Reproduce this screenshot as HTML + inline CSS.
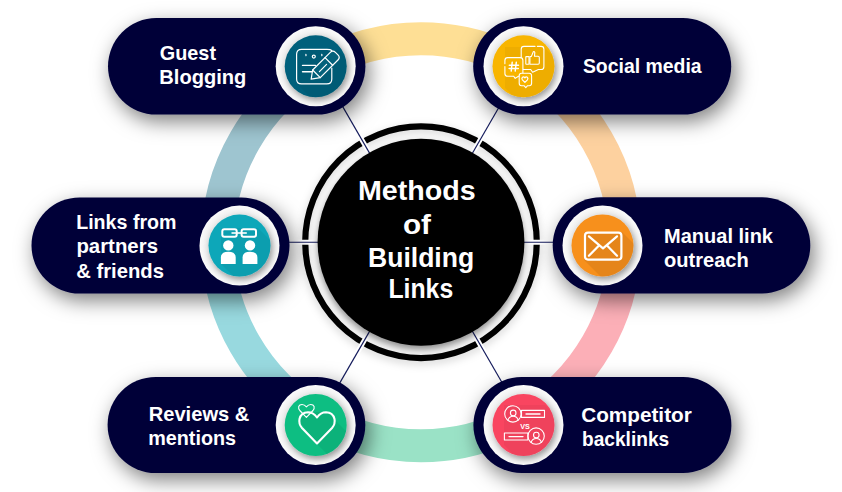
<!DOCTYPE html>
<html><head><meta charset="utf-8"><style>
html,body{margin:0;padding:0;background:#fff;width:842px;height:492px;overflow:hidden}
svg{display:block}
</style></head><body>
<svg width="842" height="492" viewBox="0 0 842 492">
<defs>
<filter id="psh" x="-10%" y="-10%" width="120%" height="120%"><feDropShadow dx="4" dy="7" stdDeviation="10" flood-color="#000" flood-opacity="0.5"/></filter>
<filter id="csh" x="-20%" y="-20%" width="140%" height="140%"><feDropShadow dx="0" dy="4" stdDeviation="3.5" flood-color="#000" flood-opacity="0.45"/></filter>
<filter id="ish" x="-30%" y="-30%" width="160%" height="160%"><feDropShadow dx="2" dy="3" stdDeviation="3" flood-color="#000" flood-opacity="0.35"/></filter>
<filter id="rsh" x="-20%" y="-20%" width="140%" height="140%"><feDropShadow dx="0" dy="3" stdDeviation="4" flood-color="#000" flood-opacity="0.18"/></filter>
<radialGradient id="wg" cx="50%" cy="50%" r="50%"><stop offset="0.7" stop-color="#e6e6e6"/><stop offset="1" stop-color="#fbfbfb"/></radialGradient>
<clipPath id="cl0"><circle cx="315.7" cy="66.3" r="31"/></clipPath><clipPath id="cl1"><circle cx="523.5" cy="66.3" r="31"/></clipPath><clipPath id="cl2"><circle cx="239.5" cy="245.6" r="31"/></clipPath><clipPath id="cl3"><circle cx="602.5" cy="245.5" r="31"/></clipPath><clipPath id="cl4"><circle cx="315.7" cy="425.0" r="31"/></clipPath><clipPath id="cl5"><circle cx="523.5" cy="425.0" r="31"/></clipPath>
</defs>
<rect width="842" height="492" fill="#fff"/>
<path d="M624.50,242.25 A203.5,203.5 0 0 0 522.75,66.01" stroke="#fdd19f" stroke-width="33" fill="none"/><path d="M522.75,66.01 A203.5,203.5 0 0 0 319.25,66.01" stroke="#fedf95" stroke-width="33" fill="none"/><path d="M319.25,66.01 A203.5,203.5 0 0 0 217.50,242.25" stroke="#9ec5d0" stroke-width="33" fill="none"/><path d="M217.50,242.25 A203.5,203.5 0 0 0 319.25,418.49" stroke="#98d9df" stroke-width="33" fill="none"/><path d="M319.25,418.49 A203.5,203.5 0 0 0 522.75,418.49" stroke="#9ae2c6" stroke-width="33" fill="none"/><path d="M522.75,418.49 A203.5,203.5 0 0 0 624.50,242.25" stroke="#fcafb7" stroke-width="33" fill="none"/>
<line x1="421" y1="242.25" x2="661.00" y2="242.25" stroke="#fff" stroke-width="5"/><line x1="421" y1="242.25" x2="541.00" y2="34.40" stroke="#fff" stroke-width="5"/><line x1="421" y1="242.25" x2="301.00" y2="34.40" stroke="#fff" stroke-width="5"/><line x1="421" y1="242.25" x2="181.00" y2="242.25" stroke="#fff" stroke-width="5"/><line x1="421" y1="242.25" x2="301.00" y2="450.10" stroke="#fff" stroke-width="5"/><line x1="421" y1="242.25" x2="541.00" y2="450.10" stroke="#fff" stroke-width="5"/>
<circle cx="421" cy="242.25" r="115.8" fill="none" stroke="#000" stroke-width="6.2" filter="url(#rsh)"/>
<line x1="421" y1="242.25" x2="661.00" y2="242.25" stroke="#fff" stroke-width="5"/><line x1="421" y1="242.25" x2="541.00" y2="34.40" stroke="#fff" stroke-width="5"/><line x1="421" y1="242.25" x2="301.00" y2="34.40" stroke="#fff" stroke-width="5"/><line x1="421" y1="242.25" x2="181.00" y2="242.25" stroke="#fff" stroke-width="5"/><line x1="421" y1="242.25" x2="301.00" y2="450.10" stroke="#fff" stroke-width="5"/><line x1="421" y1="242.25" x2="541.00" y2="450.10" stroke="#fff" stroke-width="5"/>
<line x1="421" y1="242.25" x2="661.00" y2="242.25" stroke="#141b5c" stroke-width="1.2"/><line x1="421" y1="242.25" x2="541.00" y2="34.40" stroke="#141b5c" stroke-width="1.2"/><line x1="421" y1="242.25" x2="301.00" y2="34.40" stroke="#141b5c" stroke-width="1.2"/><line x1="421" y1="242.25" x2="181.00" y2="242.25" stroke="#141b5c" stroke-width="1.2"/><line x1="421" y1="242.25" x2="301.00" y2="450.10" stroke="#141b5c" stroke-width="1.2"/><line x1="421" y1="242.25" x2="541.00" y2="450.10" stroke="#141b5c" stroke-width="1.2"/>
<circle cx="421" cy="242.25" r="103.4" fill="#000" filter="url(#csh)"/>
<g filter="url(#psh)"><rect x="108.0" y="18.1" width="257.4" height="96.5" rx="48.25" fill="#010339"/><rect x="473.2" y="18.1" width="258.0" height="96.5" rx="48.25" fill="#010339"/><rect x="31.5" y="197.4" width="258.0" height="96.2" rx="48.1" fill="#010339"/><rect x="552.7" y="197.3" width="257.6" height="96.2" rx="48.1" fill="#010339"/><rect x="107.6" y="376.9" width="257.7" height="96.2" rx="48.1" fill="#010339"/><rect x="473.4" y="377.0" width="258.0" height="96.0" rx="48.0" fill="#010339"/></g>
<circle cx="315.7" cy="66.3" r="40" fill="url(#wg)"/><circle cx="315.7" cy="66.3" r="31" fill="#04617b" filter="url(#ish)"/><circle cx="523.5" cy="66.3" r="40" fill="url(#wg)"/><circle cx="523.5" cy="66.3" r="31" fill="#f8b500" filter="url(#ish)"/><circle cx="239.5" cy="245.6" r="40" fill="url(#wg)"/><circle cx="239.5" cy="245.6" r="31" fill="#0aa7b9" filter="url(#ish)"/><circle cx="602.5" cy="245.5" r="40" fill="url(#wg)"/><circle cx="602.5" cy="245.5" r="31" fill="#f7901e" filter="url(#ish)"/><circle cx="315.7" cy="425.0" r="40" fill="url(#wg)"/><circle cx="315.7" cy="425.0" r="31" fill="#0fbe82" filter="url(#ish)"/><circle cx="523.5" cy="425.0" r="40" fill="url(#wg)"/><circle cx="523.5" cy="425.0" r="31" fill="#f94560" filter="url(#ish)"/>
<path d="M297,50 L338,50 L383,95 L383,129 L342,129 L297,84 Z" fill="#000" fill-opacity="0.05" clip-path="url(#cl0)"/><path d="M505,47 L544,47 L589,92 L589,133 L550,133 L505,88 Z" fill="#000" fill-opacity="0.04" clip-path="url(#cl1)"/><path d="M221,228 L258,228 L303,273 L303,309 L266,309 L221,264 Z" fill="#000" fill-opacity="0.05" clip-path="url(#cl2)"/><path d="M584,232 L622,232 L667,277 L667,305 L629,305 L584,260 Z" fill="#000" fill-opacity="0.07" clip-path="url(#cl3)"/><path d="M299,421 L306,412 L328,412 L335,420 L380,465 L362,489 L317,444 Z" fill="#000" fill-opacity="0.06" clip-path="url(#cl4)"/><path d="M504,405 L545,405 L590,450 L590,490 L549,490 L504,445 Z" fill="#000" fill-opacity="0.04" clip-path="url(#cl5)"/>
<g fill="none" stroke="#fff" stroke-linecap="round" stroke-linejoin="round" stroke-width="1.2">
<path d="M331.8,50.5 Q330.5,49.3 327,49.3 L301.6,49.3 Q296.6,49.3 296.6,54.3 L296.6,78.9 Q296.6,83.9 301.6,83.9 L326.8,83.9 Q331.8,83.9 331.8,78.9 L331.8,68"/>
<circle cx="313.8" cy="56.6" r="1.5"/>
<line x1="305.9" y1="54.3" x2="306" y2="55.6"/><line x1="321.8" y1="54.3" x2="321.9" y2="55.6"/>
<line x1="302.5" y1="65.4" x2="315.4" y2="65.4" stroke-width="1.4"/><line x1="302.5" y1="71.7" x2="312" y2="71.7" stroke-width="1.4"/>
<g transform="translate(310.8,79.5) rotate(-45)">
<path d="M0.5,0 L8,-5.4 L33,-5.4 Q36.6,-5.4 36.6,-1.8 L36.6,1.8 Q36.6,5.4 33,5.4 L8,5.4 Z" fill="#04617b"/>
<line x1="8" y1="-5.4" x2="8" y2="5.4"/>
<line x1="25.5" y1="-5.4" x2="25.5" y2="5.4"/>
<line x1="11.7" y1="0.5" x2="21.8" y2="0.5"/>
</g>
</g><g fill="none" stroke="#fff" stroke-linecap="round" stroke-linejoin="round" stroke-width="1.1">
<path d="M535,46.4 L524,46.4 Q521.2,46.4 521.2,49.2 L521.2,66.7 Q521.2,69.5 524,69.5 L530.7,69.5 L532.6,72.2 L538.4,69.5 L541.1,69.5 Q543.9,69.5 543.9,66.7 L543.9,49.2 Q543.9,46.4 541.1,46.4 L537.4,46.4"/>
<rect x="525.8" y="56.6" width="3.2" height="7.6" rx="0.4"/>
<path d="M529.9,64.2 L529.9,56.6 L531.4,56.4 L533.3,51.8 Q534.6,51.1 534.8,52.6 L534.5,56.3 L538.1,56.3 Q539.3,56.3 539.3,57.5 L539.3,63 Q539.3,64.2 538.1,64.2 Z"/>
<path d="M507.7,57.6 L520.1,57.6 Q522.9,57.6 522.9,60.4 L522.9,73.4 Q522.9,76.2 520.1,76.2 L518.5,76.2 L515.2,78.4 L513.7,76.2 L507.7,76.2 Q504.9,76.2 504.9,73.4 L504.9,66.5 M504.9,63.8 L504.9,60.4 Q504.9,57.6 507.7,57.6" fill="#f8b500"/>
<path d="M512.2,62.3 L511.2,71.1 M516.3,62.3 L515.2,71.1 M509.3,65.2 L518.5,65.2 M509.1,68.4 L518.3,68.4" stroke-width="1.45"/>
<path d="M521.6,73.3 L529.2,73.3 Q531.6,73.3 531.6,75.7 L531.6,83.3 Q531.6,85.7 529.2,85.7 L527.6,85.7 L525.8,87.7 L524,85.7 L521.6,85.7 Q519.2,85.7 519.2,83.3 L519.2,75.7 Q519.2,73.3 521.6,73.3 Z" fill="#f8b500"/>
<path d="M524.9,82.4 L522.4,79.8 Q521.3,78.3 522.5,77.3 Q523.8,76.4 524.9,77.9 Q526,76.4 527.3,77.3 Q528.5,78.3 527.4,79.8 Z" stroke-width="1.2"/>
</g><g fill="#fff">
<rect x="222.3" y="229.3" width="14.4" height="7.5" rx="2" fill="none" stroke="#fff" stroke-width="2"/>
<rect x="241.6" y="229.3" width="14.4" height="7.5" rx="2" fill="none" stroke="#fff" stroke-width="2"/>
<line x1="231.5" y1="233" x2="246.8" y2="233" stroke="#fff" stroke-width="1.6"/>
<circle cx="228.3" cy="245.4" r="5.2"/><circle cx="250" cy="245.4" r="5.2"/>
<path d="M220.9,263.9 L220.9,257.5 Q220.9,251.7 228.3,251.7 Q235.7,251.7 235.7,257.5 L235.7,263.9 Z"/>
<path d="M242.6,263.9 L242.6,257.5 Q242.6,251.7 250,251.7 Q257.4,251.7 257.4,257.5 L257.4,263.9 Z"/>
</g><g fill="none" stroke="#fff" stroke-linecap="round" stroke-linejoin="round" stroke-width="2.2">
<rect x="585" y="232.7" width="36.4" height="26.9" rx="3"/>
<path d="M588.9,236.3 L603,248.4 L617,236.3"/>
<line x1="588.9" y1="255.8" x2="598.5" y2="246"/><line x1="617" y1="255.8" x2="607.5" y2="246"/>
</g><g fill="none" stroke="#fff" stroke-linecap="round" stroke-linejoin="round">
<path d="M317,443.5 L302,428 Q298.5,424 299.5,419 Q301,412.5 308,412.3 Q313.5,412.3 317,417.5 Q320.5,412.3 326,412.3 Q333,412.5 334.5,419 Q335.5,424 332,428 Z" stroke-width="2.1"/>
<path d="M306.4,417.3 L299.8,410.5 Q298.2,408.5 298.7,406.5 Q299.5,404.5 302,404.5 Q304.5,404.5 306.4,406.8 Q308.3,404.5 310.8,404.5 Q313.3,404.5 314.1,406.5 Q314.6,408.5 313,410.5 Z" stroke-width="1.1"/>
</g><g fill="none" stroke="#fff" stroke-linecap="round" stroke-linejoin="round" stroke-width="1.1">
<circle cx="512.9" cy="413.9" r="8.2"/>
<circle cx="513.2" cy="412.9" r="2.8"/>
<path d="M507.9,420.3 Q509,416.3 513.1,416.3 Q517.2,416.3 518.2,420.3"/>
<rect x="521.5" y="410.4" width="23" height="7" fill="none"/>
<line x1="526" y1="414" x2="540" y2="414" stroke-width="1.4"/>
<circle cx="536.1" cy="436.1" r="8.2"/>
<circle cx="536.3" cy="435.1" r="2.8"/>
<path d="M531.1,442.5 Q532.2,438.5 536.3,438.5 Q540.4,438.5 541.4,442.5"/>
<rect x="504.4" y="433" width="23.5" height="7" fill="none"/>
<line x1="509" y1="436.6" x2="523" y2="436.6" stroke-width="1.4"/>
</g>
<text x="525" y="429" font-family="Liberation Sans" font-weight="bold" font-size="7.2" fill="#fff" text-anchor="middle">VS</text>
<g font-family="Liberation Sans" font-weight="bold" fill="#fff"><text x="159.8" y="60.0" font-size="20.2" textLength="56.2" lengthAdjust="spacingAndGlyphs">Guest</text><text x="159.3" y="84.2" font-size="20.2" textLength="87.1" lengthAdjust="spacingAndGlyphs">Blogging</text><text x="582.9" y="72.9" font-size="20.2" textLength="118.7" lengthAdjust="spacingAndGlyphs">Social media</text><text x="76.2" y="228.9" font-size="20.2" textLength="100.3" lengthAdjust="spacingAndGlyphs">Links from</text><text x="76.4" y="253.4" font-size="20.2" textLength="81.6" lengthAdjust="spacingAndGlyphs">partners</text><text x="76.2" y="277.5" font-size="20.2" textLength="87.7" lengthAdjust="spacingAndGlyphs">&amp; friends</text><text x="664.1" y="242.6" font-size="20.2" textLength="108.9" lengthAdjust="spacingAndGlyphs">Manual link</text><text x="664.0" y="267.2" font-size="20.2" textLength="84.8" lengthAdjust="spacingAndGlyphs">outreach</text><text x="148.7" y="420.5" font-size="20.2" textLength="100.7" lengthAdjust="spacingAndGlyphs">Reviews &amp;</text><text x="148.2" y="444.9" font-size="20.2" textLength="87.9" lengthAdjust="spacingAndGlyphs">mentions</text><text x="581.2" y="421.8" font-size="20.2" textLength="110.6" lengthAdjust="spacingAndGlyphs">Competitor</text><text x="582.0" y="445.9" font-size="20.2" textLength="87.2" lengthAdjust="spacingAndGlyphs">backlinks</text><text x="358.0" y="200.4" font-size="27" textLength="117.8" lengthAdjust="spacingAndGlyphs">Methods</text><text x="403.0" y="233.6" font-size="27" textLength="28.0" lengthAdjust="spacingAndGlyphs">of</text><text x="368.0" y="266.8" font-size="27" textLength="106.2" lengthAdjust="spacingAndGlyphs">Building</text><text x="388.4" y="298.0" font-size="27" textLength="64.8" lengthAdjust="spacingAndGlyphs">Links</text></g>
</svg>
</body></html>
